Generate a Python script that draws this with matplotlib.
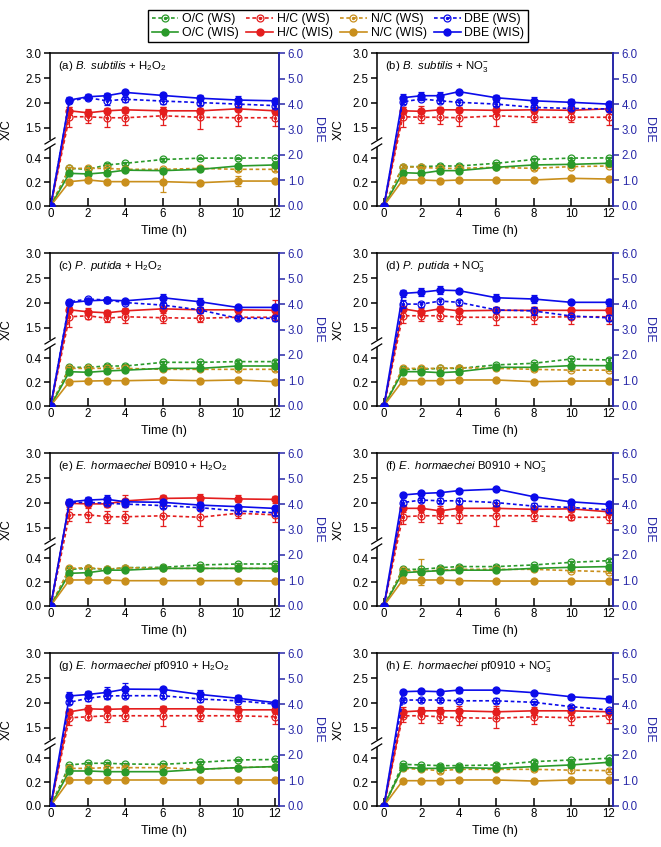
import matplotlib.pyplot as plt
import numpy as np
from matplotlib.lines import Line2D
from matplotlib.legend_handler import HandlerTuple

plt.rcParams['font.family'] = ['Liberation Sans', 'DejaVu Sans']
plt.rcParams['mathtext.fontset'] = 'custom'
plt.rcParams['mathtext.rm'] = 'Liberation Sans'
plt.rcParams['mathtext.it'] = 'Liberation Sans:italic'

time_h = [0, 1, 2, 3, 4, 6, 8, 10, 12]

titles = [r'(a) $\it{B.}$ $\it{subtilis}$ + H$_2$O$_2$',
          r'(b) $\it{B.}$ $\it{subtilis}$ + NO$_3^{-}$',
          r'(c) $\it{P.}$ $\it{putida}$ + H$_2$O$_2$',
          r'(d) $\it{P.}$ $\it{putida}$ + NO$_3^{-}$',
          r'(e) $\it{E.}$ $\it{hormaechei}$ B0910 + H$_2$O$_2$',
          r'(f) $\it{E.}$ $\it{hormaechei}$ B0910 + NO$_3^{-}$',
          r'(g) $\it{E.}$ $\it{hormaechei}$ pf0910 + H$_2$O$_2$',
          r'(h) $\it{E.}$ $\it{hormaechei}$ pf0910 + NO$_3^{-}$']

# ---- (a) B. subtilis + H2O2
a_oc_ws = [0, 0.315, 0.307, 0.344, 0.358, 0.390, 0.405, 0.408, 0.414]
a_hc_ws = [0, 1.72, 1.72, 1.70, 1.70, 1.74, 1.71, 1.70, 1.70]
a_nc_ws = [0, 0.315, 0.315, 0.315, 0.307, 0.307, 0.315, 0.307, 0.307]
a_dbe_ws = [0, 4.12, 4.25, 4.13, 4.19, 4.12, 4.06, 4.00, 3.94]
a_oc_wis = [0, 0.273, 0.268, 0.280, 0.300, 0.296, 0.307, 0.335, 0.344]
a_hc_wis = [0, 1.84, 1.80, 1.84, 1.86, 1.84, 1.84, 1.88, 1.84]
a_nc_wis = [0, 0.203, 0.217, 0.203, 0.203, 0.203, 0.194, 0.208, 0.208]
a_dbe_wis = [0, 4.16, 4.29, 4.33, 4.46, 4.34, 4.23, 4.16, 4.13]
a_oc_ws_e = [0, 0.01, 0.01, 0.015, 0.015, 0.01, 0.01, 0.01, 0.01]
a_hc_ws_e = [0, 0.20, 0.13, 0.18, 0.14, 0.18, 0.25, 0.17, 0.17]
a_nc_ws_e = [0, 0.01, 0.01, 0.01, 0.01, 0.01, 0.01, 0.01, 0.01]
a_dbe_ws_e = [0, 0.08, 0.08, 0.15, 0.10, 0.10, 0.10, 0.10, 0.10]
a_oc_wis_e = [0, 0.02, 0.015, 0.015, 0.01, 0.02, 0.015, 0.015, 0.015]
a_hc_wis_e = [0, 0.08, 0.07, 0.05, 0.06, 0.07, 0.06, 0.05, 0.06]
a_nc_wis_e = [0, 0.01, 0.01, 0.01, 0.01, 0.09, 0.01, 0.04, 0.01]
a_dbe_wis_e = [0, 0.10, 0.10, 0.12, 0.08, 0.10, 0.12, 0.14, 0.12]

# ---- (b) B. subtilis + NO3-
b_oc_ws = [0, 0.330, 0.330, 0.335, 0.335, 0.358, 0.390, 0.408, 0.414]
b_hc_ws = [0, 1.72, 1.71, 1.71, 1.70, 1.74, 1.71, 1.71, 1.71]
b_nc_ws = [0, 0.330, 0.324, 0.315, 0.315, 0.324, 0.315, 0.330, 0.335]
b_dbe_ws = [0, 4.09, 4.20, 4.13, 4.07, 4.00, 3.87, 3.83, 3.81]
b_oc_wis = [0, 0.279, 0.273, 0.296, 0.296, 0.324, 0.344, 0.349, 0.358]
b_hc_wis = [0, 1.84, 1.83, 1.86, 1.86, 1.85, 1.86, 1.85, 1.88]
b_nc_wis = [0, 0.217, 0.217, 0.211, 0.217, 0.217, 0.217, 0.231, 0.225]
b_dbe_wis = [0, 4.25, 4.33, 4.33, 4.49, 4.25, 4.13, 4.07, 4.00]
b_oc_ws_e = [0, 0.01, 0.01, 0.02, 0.015, 0.01, 0.02, 0.02, 0.015]
b_hc_ws_e = [0, 0.20, 0.12, 0.14, 0.17, 0.20, 0.10, 0.10, 0.16]
b_nc_ws_e = [0, 0.01, 0.01, 0.01, 0.01, 0.01, 0.01, 0.01, 0.01]
b_dbe_ws_e = [0, 0.10, 0.05, 0.10, 0.10, 0.08, 0.08, 0.08, 0.08]
b_oc_wis_e = [0, 0.015, 0.015, 0.015, 0.015, 0.01, 0.015, 0.015, 0.01]
b_hc_wis_e = [0, 0.07, 0.10, 0.06, 0.05, 0.07, 0.06, 0.06, 0.10]
b_nc_wis_e = [0, 0.01, 0.01, 0.01, 0.01, 0.01, 0.01, 0.01, 0.01]
b_dbe_wis_e = [0, 0.15, 0.15, 0.15, 0.03, 0.12, 0.15, 0.12, 0.10]

# ---- (c) P. putida + H2O2
c_oc_ws = [0, 0.324, 0.324, 0.335, 0.335, 0.366, 0.366, 0.372, 0.372]
c_hc_ws = [0, 1.72, 1.74, 1.69, 1.72, 1.70, 1.69, 1.71, 1.71]
c_nc_ws = [0, 0.315, 0.315, 0.315, 0.315, 0.307, 0.307, 0.307, 0.307]
c_dbe_ws = [0, 4.09, 4.20, 4.16, 4.06, 3.96, 3.77, 3.44, 3.44]
c_oc_wis = [0, 0.287, 0.282, 0.293, 0.300, 0.315, 0.315, 0.335, 0.335]
c_hc_wis = [0, 1.86, 1.82, 1.80, 1.84, 1.88, 1.86, 1.86, 1.85]
c_nc_wis = [0, 0.203, 0.208, 0.211, 0.211, 0.217, 0.211, 0.217, 0.203]
c_dbe_wis = [0, 4.06, 4.13, 4.16, 4.13, 4.25, 4.09, 3.87, 3.87]
c_oc_ws_e = [0, 0.01, 0.01, 0.015, 0.015, 0.01, 0.01, 0.015, 0.015]
c_hc_ws_e = [0, 0.20, 0.07, 0.07, 0.12, 0.10, 0.07, 0.03, 0.05]
c_nc_ws_e = [0, 0.01, 0.01, 0.01, 0.01, 0.01, 0.01, 0.01, 0.01]
c_dbe_ws_e = [0, 0.05, 0.05, 0.10, 0.05, 0.10, 0.12, 0.08, 0.10]
c_oc_wis_e = [0, 0.015, 0.01, 0.01, 0.01, 0.01, 0.01, 0.015, 0.015]
c_hc_wis_e = [0, 0.05, 0.07, 0.06, 0.05, 0.05, 0.05, 0.05, 0.20]
c_nc_wis_e = [0, 0.01, 0.01, 0.01, 0.01, 0.01, 0.01, 0.01, 0.01]
c_dbe_wis_e = [0, 0.10, 0.12, 0.08, 0.05, 0.15, 0.14, 0.05, 0.08]

# ---- (d) P. putida + NO3-
d_oc_ws = [0, 0.307, 0.307, 0.315, 0.315, 0.344, 0.358, 0.394, 0.386]
d_hc_ws = [0, 1.74, 1.74, 1.74, 1.71, 1.71, 1.71, 1.72, 1.72]
d_nc_ws = [0, 0.315, 0.315, 0.315, 0.321, 0.315, 0.307, 0.300, 0.300]
d_dbe_ws = [0, 4.00, 4.00, 4.12, 4.07, 3.77, 3.73, 3.53, 3.46]
d_oc_wis = [0, 0.287, 0.287, 0.279, 0.287, 0.324, 0.324, 0.338, 0.338]
d_hc_wis = [0, 1.88, 1.82, 1.88, 1.84, 1.85, 1.85, 1.85, 1.85]
d_nc_wis = [0, 0.211, 0.211, 0.211, 0.217, 0.217, 0.203, 0.208, 0.208]
d_dbe_wis = [0, 4.42, 4.47, 4.55, 4.53, 4.25, 4.20, 4.07, 4.07]
d_oc_ws_e = [0, 0.01, 0.01, 0.01, 0.01, 0.01, 0.015, 0.02, 0.015]
d_hc_ws_e = [0, 0.15, 0.10, 0.10, 0.14, 0.15, 0.14, 0.14, 0.14]
d_nc_ws_e = [0, 0.01, 0.01, 0.015, 0.015, 0.01, 0.01, 0.01, 0.01]
d_dbe_ws_e = [0, 0.15, 0.10, 0.10, 0.10, 0.10, 0.15, 0.05, 0.12]
d_oc_wis_e = [0, 0.01, 0.01, 0.01, 0.01, 0.01, 0.01, 0.015, 0.015]
d_hc_wis_e = [0, 0.05, 0.07, 0.05, 0.10, 0.07, 0.07, 0.05, 0.05]
d_nc_wis_e = [0, 0.01, 0.01, 0.01, 0.01, 0.01, 0.01, 0.01, 0.01]
d_dbe_wis_e = [0, 0.15, 0.17, 0.17, 0.05, 0.14, 0.14, 0.05, 0.14]

# ---- (e) E. hormaechei B0910 + H2O2
e_oc_ws = [0, 0.307, 0.315, 0.307, 0.321, 0.324, 0.344, 0.352, 0.352]
e_hc_ws = [0, 1.76, 1.76, 1.72, 1.72, 1.74, 1.71, 1.79, 1.76]
e_nc_ws = [0, 0.315, 0.321, 0.307, 0.321, 0.315, 0.315, 0.315, 0.315]
e_dbe_ws = [0, 4.06, 4.07, 4.03, 4.00, 3.94, 3.86, 3.73, 3.66]
e_oc_wis = [0, 0.273, 0.279, 0.300, 0.300, 0.315, 0.315, 0.315, 0.315]
e_hc_wis = [0, 1.99, 1.98, 1.98, 2.04, 2.09, 2.10, 2.08, 2.07]
e_nc_wis = [0, 0.217, 0.217, 0.217, 0.211, 0.211, 0.211, 0.211, 0.208]
e_dbe_wis = [0, 4.09, 4.16, 4.19, 4.09, 4.07, 3.96, 3.90, 3.83]
e_oc_ws_e = [0, 0.01, 0.01, 0.01, 0.01, 0.01, 0.01, 0.01, 0.01]
e_hc_ws_e = [0, 0.12, 0.14, 0.12, 0.12, 0.20, 0.17, 0.10, 0.14]
e_nc_ws_e = [0, 0.01, 0.01, 0.01, 0.01, 0.01, 0.01, 0.01, 0.01]
e_dbe_ws_e = [0, 0.08, 0.08, 0.08, 0.08, 0.08, 0.08, 0.08, 0.08]
e_oc_wis_e = [0, 0.015, 0.01, 0.01, 0.01, 0.01, 0.01, 0.01, 0.01]
e_hc_wis_e = [0, 0.07, 0.05, 0.06, 0.12, 0.07, 0.07, 0.07, 0.07]
e_nc_wis_e = [0, 0.01, 0.01, 0.01, 0.01, 0.01, 0.01, 0.01, 0.01]
e_dbe_wis_e = [0, 0.12, 0.12, 0.15, 0.12, 0.10, 0.12, 0.08, 0.05]

# ---- (f) E. hormaechei B0910 + NO3-
f_oc_ws = [0, 0.307, 0.307, 0.321, 0.330, 0.330, 0.344, 0.366, 0.380]
f_hc_ws = [0, 1.72, 1.74, 1.74, 1.74, 1.74, 1.74, 1.71, 1.71]
f_nc_ws = [0, 0.300, 0.287, 0.300, 0.307, 0.307, 0.307, 0.296, 0.287]
f_dbe_ws = [0, 4.06, 4.16, 4.13, 4.13, 4.06, 3.92, 3.87, 3.77]
f_oc_wis = [0, 0.279, 0.287, 0.296, 0.300, 0.300, 0.315, 0.324, 0.330]
f_hc_wis = [0, 1.89, 1.89, 1.84, 1.89, 1.89, 1.87, 1.88, 1.82]
f_nc_wis = [0, 0.217, 0.217, 0.217, 0.211, 0.208, 0.208, 0.208, 0.208]
f_dbe_wis = [0, 4.36, 4.42, 4.45, 4.53, 4.59, 4.29, 4.09, 3.99]
f_oc_ws_e = [0, 0.01, 0.01, 0.01, 0.01, 0.01, 0.01, 0.01, 0.01]
f_hc_ws_e = [0, 0.15, 0.12, 0.15, 0.15, 0.20, 0.10, 0.05, 0.12]
f_nc_ws_e = [0, 0.01, 0.11, 0.01, 0.01, 0.01, 0.01, 0.01, 0.01]
f_dbe_ws_e = [0, 0.10, 0.08, 0.10, 0.12, 0.12, 0.12, 0.08, 0.08]
f_oc_wis_e = [0, 0.01, 0.02, 0.01, 0.01, 0.01, 0.01, 0.01, 0.015]
f_hc_wis_e = [0, 0.07, 0.07, 0.10, 0.07, 0.10, 0.05, 0.07, 0.07]
f_nc_wis_e = [0, 0.01, 0.02, 0.01, 0.01, 0.01, 0.01, 0.01, 0.01]
f_dbe_wis_e = [0, 0.08, 0.06, 0.08, 0.08, 0.05, 0.05, 0.05, 0.05]

# ---- (g) E. hormaechei pf0910 + H2O2
g_oc_ws = [0, 0.344, 0.358, 0.358, 0.352, 0.349, 0.366, 0.386, 0.390]
g_hc_ws = [0, 1.70, 1.72, 1.74, 1.74, 1.74, 1.74, 1.74, 1.72]
g_nc_ws = [0, 0.315, 0.315, 0.321, 0.321, 0.321, 0.307, 0.321, 0.330]
g_dbe_ws = [0, 4.07, 4.23, 4.32, 4.33, 4.33, 4.20, 4.13, 4.00]
g_oc_wis = [0, 0.293, 0.293, 0.287, 0.287, 0.287, 0.307, 0.321, 0.330]
g_hc_wis = [0, 1.82, 1.88, 1.87, 1.88, 1.88, 1.88, 1.86, 1.86]
g_nc_wis = [0, 0.217, 0.217, 0.217, 0.217, 0.217, 0.217, 0.217, 0.217]
g_dbe_wis = [0, 4.32, 4.38, 4.46, 4.59, 4.58, 4.38, 4.23, 4.06]
g_oc_ws_e = [0, 0.01, 0.01, 0.01, 0.01, 0.01, 0.01, 0.01, 0.01]
g_hc_ws_e = [0, 0.15, 0.07, 0.12, 0.10, 0.20, 0.10, 0.10, 0.14]
g_nc_ws_e = [0, 0.01, 0.01, 0.01, 0.01, 0.01, 0.01, 0.01, 0.01]
g_dbe_ws_e = [0, 0.05, 0.10, 0.12, 0.10, 0.10, 0.10, 0.06, 0.06]
g_oc_wis_e = [0, 0.015, 0.01, 0.01, 0.01, 0.01, 0.01, 0.01, 0.01]
g_hc_wis_e = [0, 0.05, 0.07, 0.07, 0.05, 0.05, 0.05, 0.07, 0.06]
g_nc_wis_e = [0, 0.01, 0.01, 0.01, 0.01, 0.01, 0.01, 0.01, 0.01]
g_dbe_wis_e = [0, 0.14, 0.14, 0.22, 0.25, 0.10, 0.16, 0.12, 0.06]

# ---- (h) E. hormaechei pf0910 + NO3-
h_oc_ws = [0, 0.349, 0.344, 0.338, 0.338, 0.344, 0.372, 0.386, 0.400]
h_hc_ws = [0, 1.74, 1.74, 1.72, 1.70, 1.69, 1.72, 1.70, 1.74]
h_nc_ws = [0, 0.315, 0.307, 0.296, 0.307, 0.307, 0.307, 0.300, 0.296]
h_dbe_ws = [0, 4.16, 4.16, 4.16, 4.13, 4.13, 4.07, 3.90, 3.77]
h_oc_wis = [0, 0.324, 0.315, 0.315, 0.321, 0.315, 0.330, 0.344, 0.366]
h_hc_wis = [0, 1.82, 1.84, 1.84, 1.84, 1.82, 1.84, 1.84, 1.82]
h_nc_wis = [0, 0.211, 0.211, 0.211, 0.217, 0.217, 0.208, 0.217, 0.217]
h_dbe_wis = [0, 4.49, 4.51, 4.49, 4.55, 4.55, 4.45, 4.29, 4.20]
h_oc_ws_e = [0, 0.01, 0.01, 0.01, 0.01, 0.015, 0.01, 0.01, 0.01]
h_hc_ws_e = [0, 0.12, 0.15, 0.12, 0.15, 0.20, 0.14, 0.14, 0.14]
h_nc_ws_e = [0, 0.01, 0.01, 0.02, 0.01, 0.01, 0.01, 0.02, 0.01]
h_dbe_ws_e = [0, 0.08, 0.08, 0.08, 0.06, 0.10, 0.05, 0.05, 0.05]
h_oc_wis_e = [0, 0.015, 0.01, 0.01, 0.01, 0.01, 0.01, 0.01, 0.015]
h_hc_wis_e = [0, 0.10, 0.07, 0.07, 0.10, 0.12, 0.08, 0.08, 0.05]
h_nc_wis_e = [0, 0.01, 0.01, 0.01, 0.01, 0.01, 0.01, 0.01, 0.01]
h_dbe_wis_e = [0, 0.08, 0.06, 0.08, 0.10, 0.06, 0.03, 0.08, 0.10]

panels = [
    (a_oc_ws, a_hc_ws, a_nc_ws, a_dbe_ws, a_oc_wis, a_hc_wis, a_nc_wis, a_dbe_wis,
     a_oc_ws_e, a_hc_ws_e, a_nc_ws_e, a_dbe_ws_e, a_oc_wis_e, a_hc_wis_e, a_nc_wis_e, a_dbe_wis_e),
    (b_oc_ws, b_hc_ws, b_nc_ws, b_dbe_ws, b_oc_wis, b_hc_wis, b_nc_wis, b_dbe_wis,
     b_oc_ws_e, b_hc_ws_e, b_nc_ws_e, b_dbe_ws_e, b_oc_wis_e, b_hc_wis_e, b_nc_wis_e, b_dbe_wis_e),
    (c_oc_ws, c_hc_ws, c_nc_ws, c_dbe_ws, c_oc_wis, c_hc_wis, c_nc_wis, c_dbe_wis,
     c_oc_ws_e, c_hc_ws_e, c_nc_ws_e, c_dbe_ws_e, c_oc_wis_e, c_hc_wis_e, c_nc_wis_e, c_dbe_wis_e),
    (d_oc_ws, d_hc_ws, d_nc_ws, d_dbe_ws, d_oc_wis, d_hc_wis, d_nc_wis, d_dbe_wis,
     d_oc_ws_e, d_hc_ws_e, d_nc_ws_e, d_dbe_ws_e, d_oc_wis_e, d_hc_wis_e, d_nc_wis_e, d_dbe_wis_e),
    (e_oc_ws, e_hc_ws, e_nc_ws, e_dbe_ws, e_oc_wis, e_hc_wis, e_nc_wis, e_dbe_wis,
     e_oc_ws_e, e_hc_ws_e, e_nc_ws_e, e_dbe_ws_e, e_oc_wis_e, e_hc_wis_e, e_nc_wis_e, e_dbe_wis_e),
    (f_oc_ws, f_hc_ws, f_nc_ws, f_dbe_ws, f_oc_wis, f_hc_wis, f_nc_wis, f_dbe_wis,
     f_oc_ws_e, f_hc_ws_e, f_nc_ws_e, f_dbe_ws_e, f_oc_wis_e, f_hc_wis_e, f_nc_wis_e, f_dbe_wis_e),
    (g_oc_ws, g_hc_ws, g_nc_ws, g_dbe_ws, g_oc_wis, g_hc_wis, g_nc_wis, g_dbe_wis,
     g_oc_ws_e, g_hc_ws_e, g_nc_ws_e, g_dbe_ws_e, g_oc_wis_e, g_hc_wis_e, g_nc_wis_e, g_dbe_wis_e),
    (h_oc_ws, h_hc_ws, h_nc_ws, h_dbe_ws, h_oc_wis, h_hc_wis, h_nc_wis, h_dbe_wis,
     h_oc_ws_e, h_hc_ws_e, h_nc_ws_e, h_dbe_ws_e, h_oc_wis_e, h_hc_wis_e, h_nc_wis_e, h_dbe_wis_e),
]

c_oc = '#2a9a2a'
c_hc = '#e41e1e'
c_nc = '#c98f1c'
c_dbe = '#0b0bea'
c_axis = '#2828a8'

# broken X/C axis: 0-0.4 at the bottom, 1.5-3.0 at the top
brk_y = np.array([0.0, 0.4, 1.5, 3.0])
brk_f = np.array([0.0, 0.311, 0.512, 1.0])


def fwd(y):
    y = np.asarray(y, dtype=float)
    out = np.interp(y, brk_y, brk_f)
    out = np.where(y < 0, y / 0.4 * 0.311, out)
    out = np.where(y > 3.0, 1.0 + (y - 3.0) / 1.5 * 0.488, out)
    return out


def inv(f):
    f = np.asarray(f, dtype=float)
    out = np.interp(f, brk_f, brk_y)
    out = np.where(f < 0, f / 0.311 * 0.4, out)
    out = np.where(f > 1.0, 3.0 + (f - 1.0) / 0.488 * 1.5, out)
    return out


fig = plt.figure(figsize=(6.61, 8.47), dpi=100)

col_x = [50 / 661, 376.7 / 661]
col_w = [228.7 / 661, 236 / 661]
col_xlim = [(-0.04, 12.2), (-0.39, 12.22)]
row_top = [53.3, 253.3, 453.3, 653.3]
ax_h = 152.4

tick_fs = 8.3
lab_fs = 9


def draw_ws(ax, y, err, color):
    ax.errorbar(time_h, y, yerr=err, color=color, lw=1.2, ls=(0, (2.2, 1.6)),
                marker='o', ms=5, mfc='none', mec=color, mew=0.9,
                elinewidth=0.9, capsize=2.2, capthick=0.9)
    ax.plot(time_h, y, ls='none', marker='o', ms=1.4, color=color)


def draw_wis(ax, y, err, color):
    ax.errorbar(time_h, y, yerr=err, color=color, lw=1.2, marker='o', ms=5,
                mfc=color, mec=color, elinewidth=0.9, capsize=2.2, capthick=0.9)


for i, p in enumerate(panels):
    r, c = divmod(i, 2)
    bottom = 1 - (row_top[r] + ax_h) / 847
    ax = fig.add_axes([col_x[c], bottom, col_w[c], ax_h / 847])
    ax.set_yscale('function', functions=(fwd, inv))
    ax2 = ax.twinx()

    oc_ws, hc_ws, nc_ws, dbe_ws, oc_wis, hc_wis, nc_wis, dbe_wis = p[:8]
    oc_ws_e, hc_ws_e, nc_ws_e, dbe_ws_e, oc_wis_e, hc_wis_e, nc_wis_e, dbe_wis_e = p[8:]

    draw_ws(ax, oc_ws, oc_ws_e, c_oc)
    draw_ws(ax, hc_ws, hc_ws_e, c_hc)
    draw_ws(ax, nc_ws, nc_ws_e, c_nc)
    draw_wis(ax, oc_wis, oc_wis_e, c_oc)
    draw_wis(ax, hc_wis, hc_wis_e, c_hc)
    draw_wis(ax, nc_wis, nc_wis_e, c_nc)
    draw_ws(ax2, dbe_ws, dbe_ws_e, c_dbe)
    draw_wis(ax2, dbe_wis, dbe_wis_e, c_dbe)

    ax.set_xlim(*col_xlim[c])
    ax.set_ylim(0, 3.0)
    ax2.set_ylim(0, 6.0)
    ax.set_xticks([0, 2, 4, 6, 8, 10, 12])
    ax.set_yticks([0.0, 0.2, 0.4, 1.5, 2.0, 2.5, 3.0])
    ax.set_yticklabels(['0.0', '0.2', '0.4', '1.5', '2.0', '2.5', '3.0'])
    ax.minorticks_off()
    ax2.set_yticks([0, 1, 2, 3, 4, 5, 6])
    ax2.set_yticklabels(['0.0', '1.0', '2.0', '3.0', '4.0', '5.0', '6.0'])
    ax2.minorticks_off()

    ax.tick_params(axis='x', direction='in', length=6, width=1.1, labelsize=tick_fs, pad=2)
    ax.tick_params(axis='y', direction='out', length=4, width=1.1, labelsize=tick_fs, pad=2)
    ax2.tick_params(axis='y', direction='out', length=4.5, width=1.1, labelsize=tick_fs,
                    pad=2, colors=c_axis)

    for s in ['left', 'top', 'bottom']:
        ax2.spines[s].set_visible(False)
        ax.spines[s].set_linewidth(1.1)
    ax.spines['right'].set_visible(False)
    ax2.spines['right'].set_color(c_axis)
    ax2.spines['right'].set_linewidth(1.4)

    # break mark on the left spine
    dx = 5 / (col_w[c] * 661)
    ax.plot([0, 0], [0.385, 0.43], transform=ax.transAxes, color='white', lw=3,
            clip_on=False, zorder=20, solid_capstyle='butt')
    for yb in (0.385, 0.425):
        ax.plot([-dx, dx], [yb - 0.02, yb + 0.02], transform=ax.transAxes,
                color='black', lw=0.9, clip_on=False, zorder=21)

    ax.set_ylabel('X/C', fontsize=lab_fs)
    ax.yaxis.set_label_coords(-0.162 if c == 0 else -0.134, 0.5)
    ax2.set_ylabel('DBE', fontsize=lab_fs, color=c_axis, rotation=-90, va='center')
    ax2.yaxis.set_label_coords(1.172 if c == 0 else 1.152, 0.5)
    ax.set_xlabel('Time (h)', fontsize=lab_fs, labelpad=3)

    ax.text(0.035, 0.915, titles[i], transform=ax.transAxes, fontsize=8.2,
            ha='left', va='center')

# legend: open markers (WS, dotted) and filled markers (WIS, solid)
handles = []
labels = []
for name, col in [('O/C', c_oc), ('H/C', c_hc), ('N/C', c_nc), ('DBE', c_dbe)]:
    ws_line = Line2D([], [], color=col, lw=1.2, ls=(0, (2.2, 1.6)), marker='o', ms=5,
                     mfc='none', mec=col, mew=0.9)
    ws_dot = Line2D([], [], ls='none', marker='o', ms=1.4, color=col)
    wis_line = Line2D([], [], color=col, lw=1.2, marker='o', ms=5, mfc=col, mec=col)
    handles += [(ws_line, ws_dot), wis_line]
    labels += [name + ' (WS)', name + ' (WIS)']

fig.legend(handles, labels, ncol=4, loc='upper center',
           bbox_to_anchor=(338 / 661, 1 - 4 / 847), fontsize=8.8,
           frameon=True, fancybox=False, edgecolor='black', framealpha=1,
           handlelength=2.2, handletextpad=0.3, columnspacing=0.6,
           borderpad=0.25, labelspacing=0.15,
           handler_map={tuple: HandlerTuple(ndivide=1)})

fig.savefig('out.png', dpi=100)
